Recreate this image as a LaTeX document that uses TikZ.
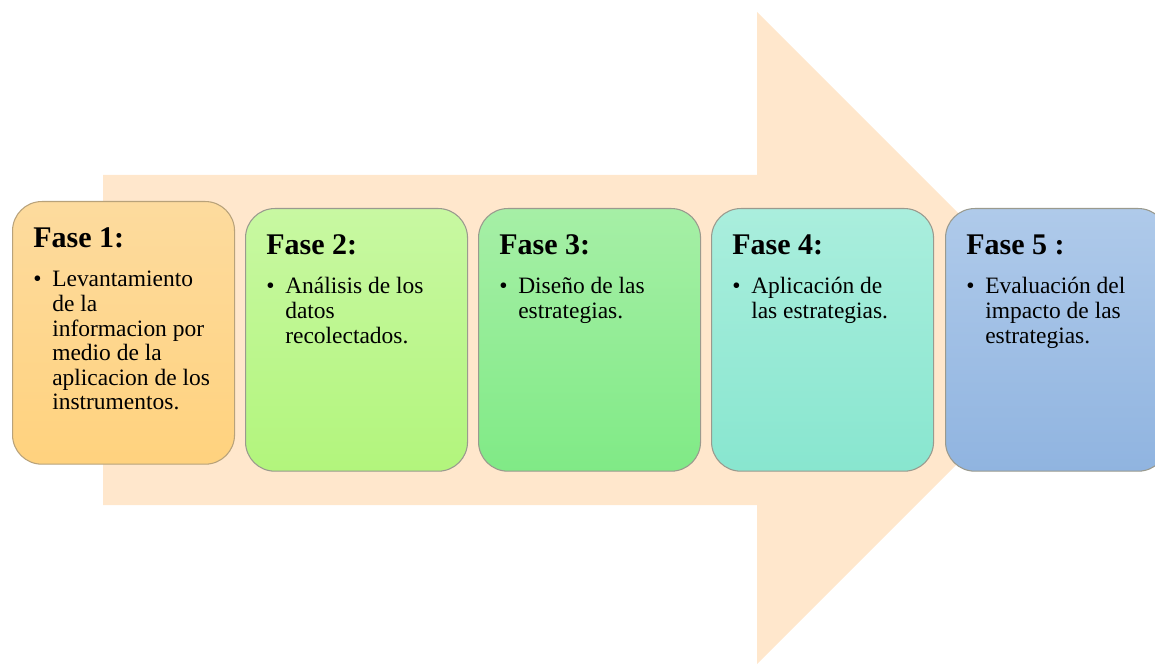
\documentclass[tikz,border=0pt]{standalone}
\usepackage{fontspec}
\setmainfont{Liberation Serif}
\usepackage{tikz}
\usetikzlibrary{calc}

\definecolor{flecha}{HTML}{FFE7CC}
\definecolor{borde}{HTML}{9A9A8E}
\definecolor{bordeA}{HTML}{B8A27A}
\definecolor{naranjaA}{HTML}{FDDB9E}
\definecolor{naranjaB}{HTML}{FFD27E}
\definecolor{verdeA}{HTML}{C8F8A2}
\definecolor{verdeB}{HTML}{B2F57C}
\definecolor{menta}{HTML}{A6EFA6}
\definecolor{mentaB}{HTML}{80EA86}
\definecolor{aguaA}{HTML}{AAEEDD}
\definecolor{aguaB}{HTML}{88E6CF}
\definecolor{azulA}{HTML}{AFCAEA}
\definecolor{azulB}{HTML}{90B4E0}

\tikzset{
	fase/.style={draw=borde, line width=0.8pt, rounded corners=22pt, anchor=north west,
		minimum width=166.5pt, minimum height=197pt, inner sep=0pt},
	titulo/.style={anchor=base west, inner sep=0pt, font=\fontsize{22.5}{26}\selectfont\bfseries},
	cuerpo/.style={anchor=base west, inner sep=0pt, font=\fontsize{17.6}{18.4}\selectfont}
}
\newcommand{\vineta}{\makebox[14.25pt][l]{\textbullet}}

\begin{document}
\begin{tikzpicture}[x=0.75pt,y=0.75pt]
		\clip (0,0) rectangle (1155,664);
		
		% flecha de fondo
		\fill[flecha] (103,489) -- (757,489) -- (757,652) -- (1083,326)
			-- (757,0) -- (757,159) -- (103,159) -- cycle;
		
		% fases
		\node[fase, draw=bordeA, top color=naranjaA, bottom color=naranjaB] (f1) at (12,463) {};
		\node[fase, top color=verdeA, bottom color=verdeB] (f2) at (245,456) {};
		\node[fase, top color=menta, bottom color=mentaB] (f3) at (478,456) {};
		\node[fase, top color=aguaA, bottom color=aguaB] (f4) at (711,456) {};
		\node[fase, top color=azulA, bottom color=azulB] (f5) at (945,456) {};
		
		\node[titulo] (t1) at ($(f1.north west)+(21,-47)$) {Fase 1:};
		\node[titulo] (t2) at ($(f2.north west)+(21,-47)$) {Fase 2:};
		\node[titulo] (t3) at ($(f3.north west)+(21,-47)$) {Fase 3:};
		\node[titulo] (t4) at ($(f4.north west)+(21,-47)$) {Fase 4:};
		\node[titulo] (t5) at ($(f5.north west)+(21,-47)$) {Fase 5 :};
		
		\node[cuerpo] (c1) at ($(f1.north west)+(21,-86)$) {\vineta\begin{tabular}[t]{@{}l@{}}
			Levantamiento\\de la\\informacion por\\medio de la\\aplicacion de los\\instrumentos.\end{tabular}};
		\node[cuerpo] (c2) at ($(f2.north west)+(21,-86)$) {\vineta\begin{tabular}[t]{@{}l@{}}
			Análisis de los\\datos\\recolectados.\end{tabular}};
		\node[cuerpo] (c3) at ($(f3.north west)+(21,-86)$) {\vineta\begin{tabular}[t]{@{}l@{}}
			Diseño de las\\estrategias.\end{tabular}};
		\node[cuerpo] (c4) at ($(f4.north west)+(21,-86)$) {\vineta\begin{tabular}[t]{@{}l@{}}
			Aplicación de\\las estrategias.\end{tabular}};
		\node[cuerpo] (c5) at ($(f5.north west)+(21,-86)$) {\vineta\begin{tabular}[t]{@{}l@{}}
			Evaluación del\\impacto de las\\estrategias.\end{tabular}};
	\end{tikzpicture}
\end{document}
